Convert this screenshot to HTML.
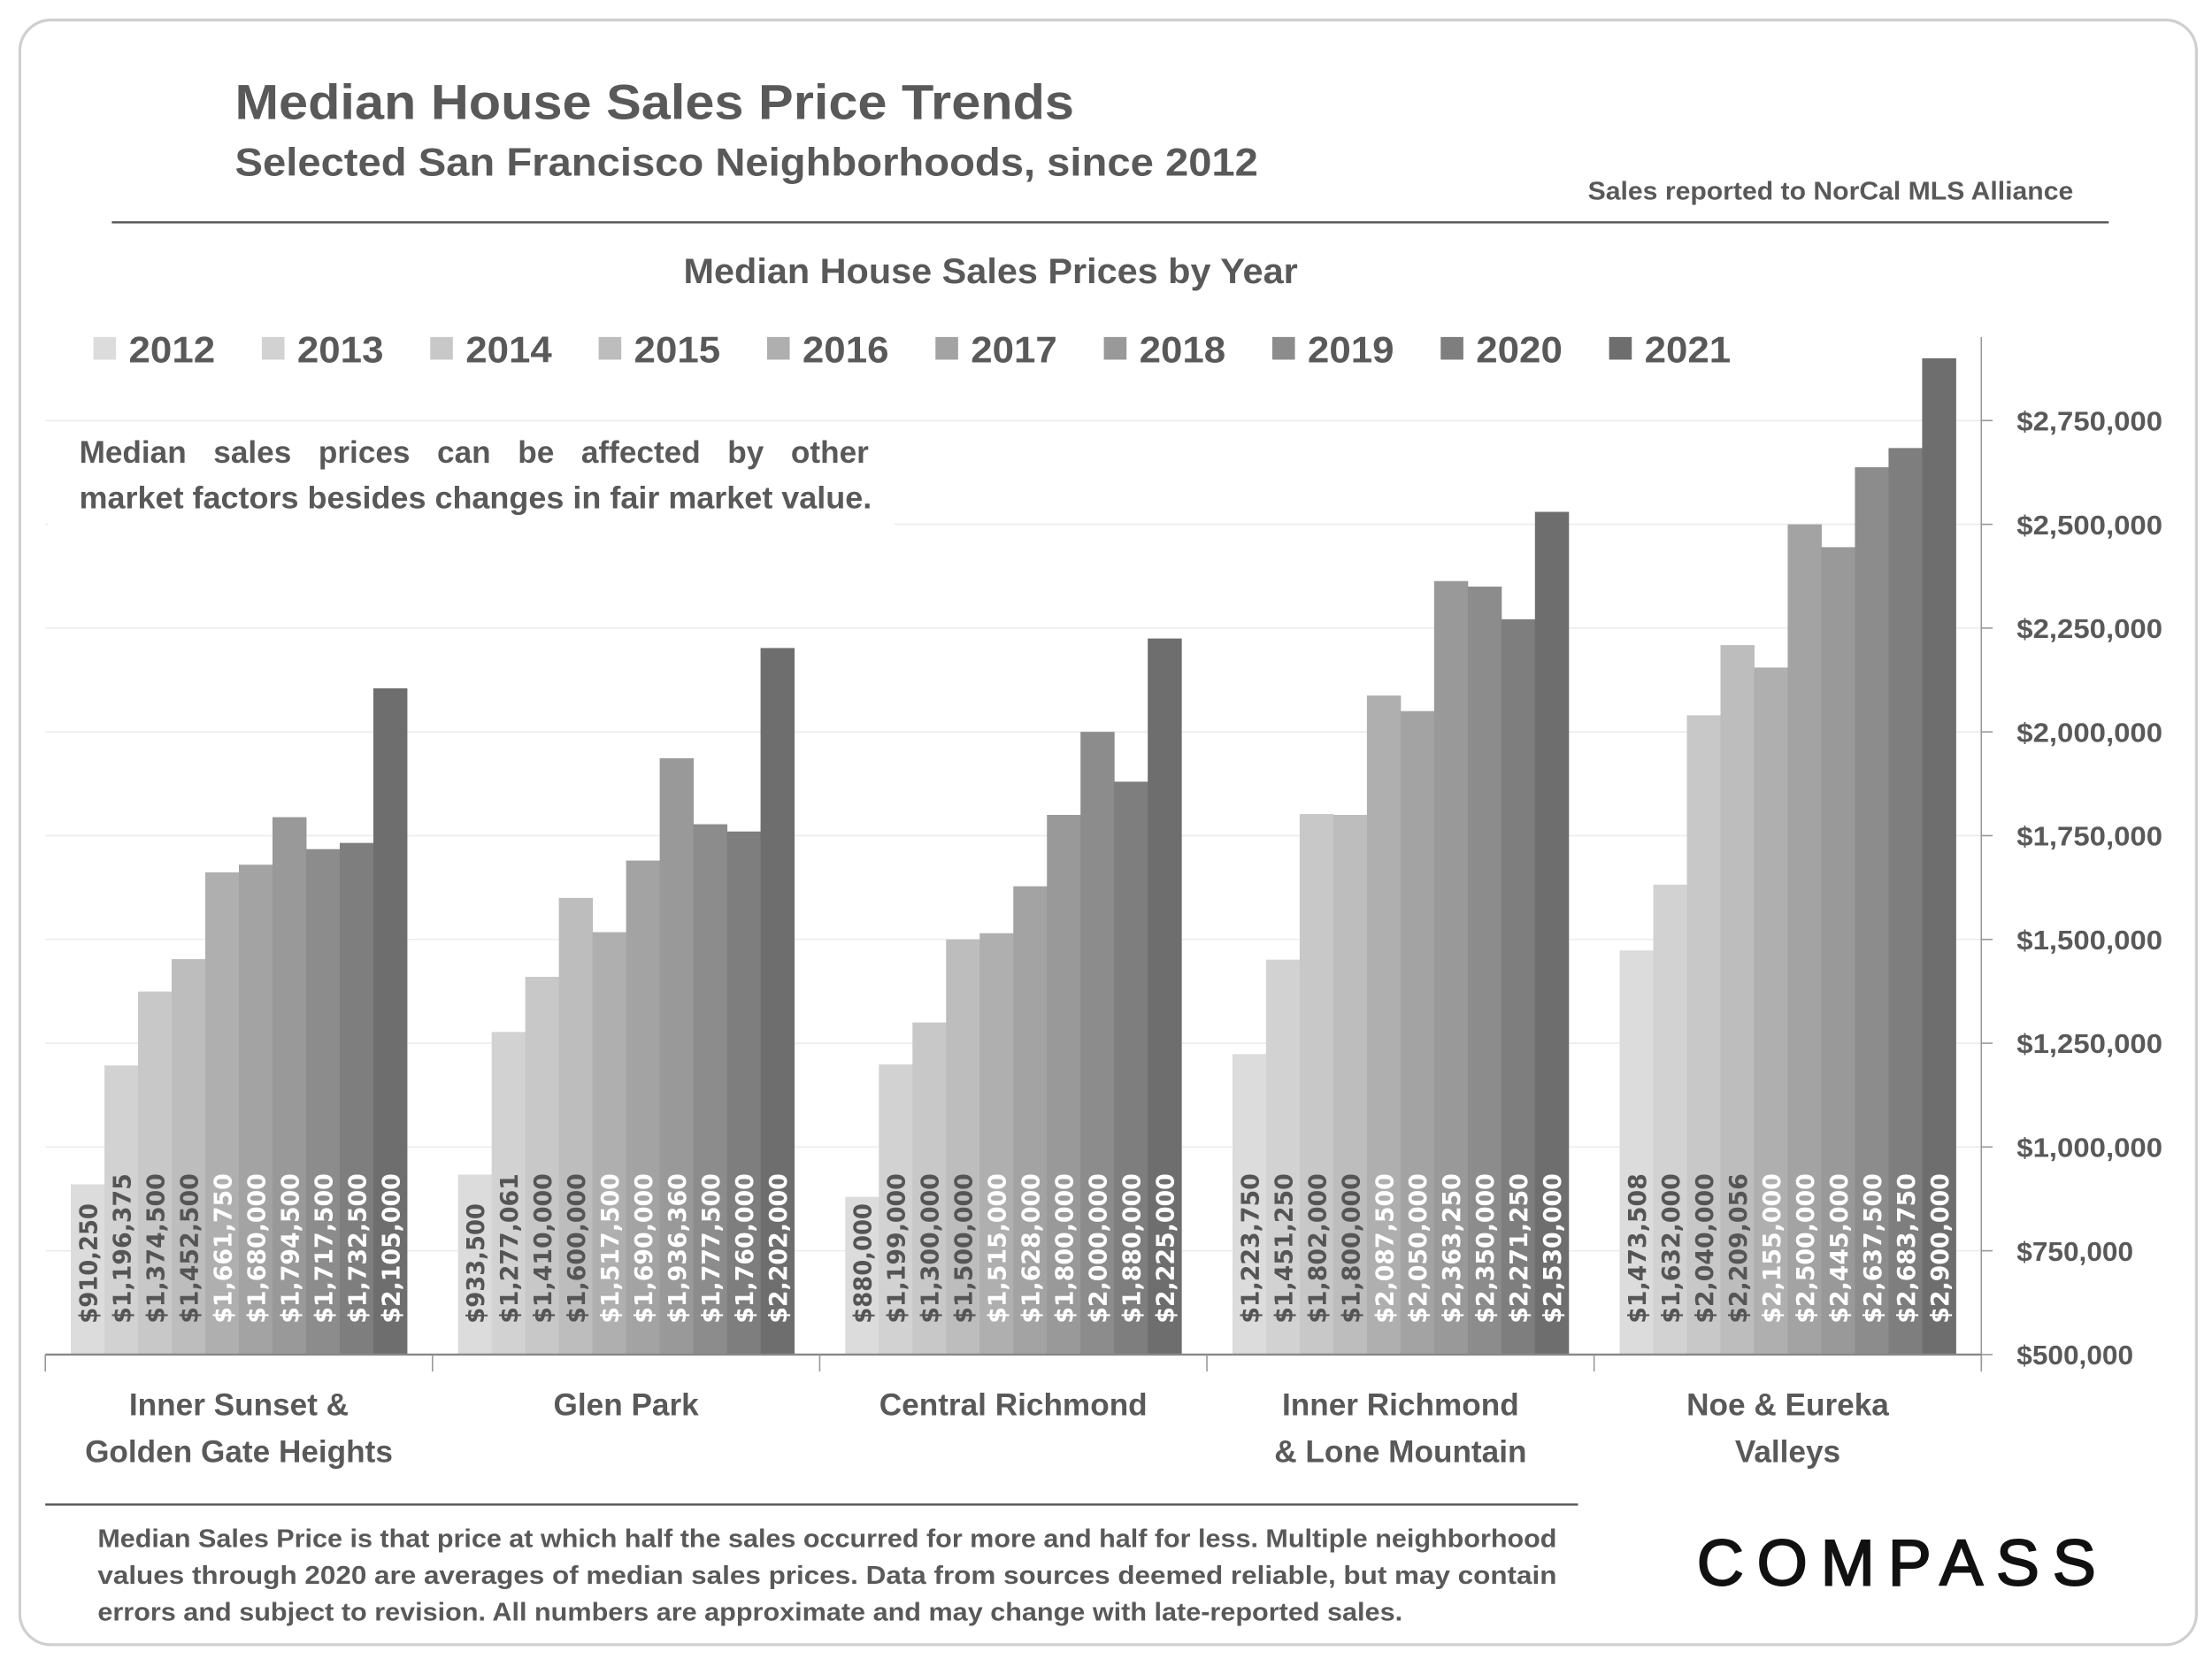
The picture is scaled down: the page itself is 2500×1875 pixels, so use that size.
<!DOCTYPE html>
<html><head><meta charset="utf-8"><style>
html,body{margin:0;padding:0;background:#fff}
svg{display:block}
text{font-family:"Liberation Sans",sans-serif;font-weight:bold;fill:#595959}
</style></head><body>
<svg id="chart" width="2500" height="1875" viewBox="0 0 1563 1172" xmlns="http://www.w3.org/2000/svg">
<rect x="14" y="14" width="1538" height="1148" rx="22" fill="#fff" stroke="#cfcfcf" stroke-width="2"/>
<text x="166" y="84" font-size="35" textLength="593" lengthAdjust="spacingAndGlyphs">Median House Sales Price Trends</text>
<text x="166" y="124" font-size="28" textLength="723" lengthAdjust="spacingAndGlyphs">Selected San Francisco Neighborhoods, since 2012</text>
<text x="1465" y="141" font-size="18" text-anchor="end" textLength="343" lengthAdjust="spacingAndGlyphs">Sales reported to NorCal MLS Alliance</text>
<line x1="79" y1="157" x2="1490" y2="157" stroke="#555" stroke-width="1.5"/>
<text x="700" y="200" font-size="25" text-anchor="middle" textLength="434" lengthAdjust="spacingAndGlyphs">Median House Sales Prices by Year</text>
<g id="grid"></g><g id="bars"></g><g id="legend"></g><g id="yaxis"></g><g id="xaxis"></g>
<rect x="34" y="300" width="598" height="72" fill="#fff"/>
<text x="56" y="327" font-size="22" word-spacing="13">Median sales prices can be affected by other</text>
<text x="56" y="359" font-size="22" textLength="560" lengthAdjust="spacingAndGlyphs">market factors besides changes in fair market value.</text>
<line x1="32" y1="1063" x2="1115" y2="1063" stroke="#555" stroke-width="1.5"/>
<text x="69" y="1093" font-size="18" textLength="1031" lengthAdjust="spacingAndGlyphs">Median Sales Price is that price at which half the sales occurred for more and half for less. Multiple neighborhood</text>
<text x="69" y="1119" font-size="18" textLength="1031" lengthAdjust="spacingAndGlyphs">values through 2020 are averages of median sales prices. Data from sources deemed reliable, but may contain</text>
<text x="69" y="1145" font-size="18" textLength="922" lengthAdjust="spacingAndGlyphs">errors and subject to revision.  All numbers are approximate and may change with late-reported sales.</text>
<text x="1199" y="1120" font-size="46" textLength="282" lengthAdjust="spacing" style="font-weight:normal;fill:#111;stroke:#111;stroke-width:1.2">COMPASS</text>
</svg>
<script>
const categories=[["Inner Sunset &","Golden Gate Heights"],["Glen Park"],["Central Richmond"],["Inner Richmond","& Lone Mountain"],["Noe & Eureka","Valleys"]];
const years=["2012","2013","2014","2015","2016","2017","2018","2019","2020","2021"];
const innerSunset=[910250,1196375,1374500,1452500,1661750,1680000,1794500,1717500,1732500,2105000];
const glenPark=[933500,1277061,1410000,1600000,1517500,1690000,1936360,1777500,1760000,2202000];
const centralRichmond=[880000,1199000,1300000,1500000,1515000,1628000,1800000,2000000,1880000,2225000];
const innerRichmond=[1223750,1451250,1802000,1800000,2087500,2050000,2363250,2350000,2271250,2530000];
const noeEureka=[1473508,1632000,2040000,2209056,2155000,2500000,2445000,2637500,2683750,2900000];
const yTicks=[500000,750000,1000000,1250000,1500000,1750000,2000000,2250000,2500000,2750000];
const series=[innerSunset,glenPark,centralRichmond,innerRichmond,noeEureka];
const colors=["#dcdcdc","#d2d2d2","#c8c8c8","#bdbdbd","#afafaf","#a3a3a3","#999999","#8c8c8c","#7e7e7e","#6e6e6e"];
const NS="http://www.w3.org/2000/svg";
const X0=32,X1=1400,Y0=957,PX=73.33/250000;
const y=v=>Y0-(v-500000)*PX;
const cw=(X1-X0)/categories.length;
const fmt=v=>"$"+v.toLocaleString("en-US");
function mk(tag,attrs,parent,txt){const e=document.createElementNS(NS,tag);for(const k in attrs)e.setAttribute(k,attrs[k]);if(txt!==undefined)e.textContent=txt;parent.appendChild(e);return e;}
const grid=document.getElementById('grid'),bars=document.getElementById('bars'),leg=document.getElementById('legend'),ya=document.getElementById('yaxis'),xa=document.getElementById('xaxis');
yTicks.forEach(t=>{
  const l=mk('line',{x1:X0,x2:X1,y1:y(t),y2:y(t),stroke:'#ececec','stroke-width':1},grid);
  
  
  const tk=mk('line',{x1:X1,x2:X1+8,y1:y(t),y2:y(t),stroke:'#999','stroke-width':1},ya);
  
  
  const s=fmt(t);
  const tx=mk('text',{x:1425,y:y(t)+7,'font-size':19,textLength:s.length*10.3,lengthAdjust:'spacingAndGlyphs'},ya,s);
  
  
});
const ax=mk('line',{x1:X1,x2:X1,y1:238,y2:Y0+8,stroke:'#999','stroke-width':1},ya);


const bx=mk('line',{x1:X0,x2:X1,y1:Y0,y2:Y0,stroke:'#888','stroke-width':1.5},xa);


const bw=23.75;
categories.forEach((c,ci)=>{
  const gx=X0+ci*cw;
  const tk=mk('line',{x1:gx,x2:gx,y1:Y0,y2:Y0+12,stroke:'#999','stroke-width':1},xa);
  
  
  c.forEach((line,li)=>{
    const t=mk('text',{x:gx+cw/2,y:1000+li*33,'font-size':22,'text-anchor':'middle'},xa,line);
    
    
  });
  const start=gx+cw/2-bw*5;
  series[ci].forEach((v,yi)=>{
    const bxp=start+yi*bw;
    const r=mk('rect',{x:bxp,y:y(v),width:bw+0.3,height:Y0-y(v),fill:colors[yi]},bars);
    
    
    const s=fmt(v);
    const tx=bxp+bw/2+6.5, ty=935;
    const lab=mk('text',{x:tx,y:ty,'font-size':17.5,transform:`rotate(-90 ${tx} ${ty})`,textLength:s.length*10.6,lengthAdjust:'spacingAndGlyphs',style:'font-family:"DejaVu Sans",sans-serif;fill:'+(yi<4?'#555':'#fff')},bars,s);
    
    
  });
});
const tk5=mk('line',{x1:X1,x2:X1,y1:Y0,y2:Y0+12,stroke:'#999','stroke-width':1},xa);


years.forEach((yr,i)=>{
  const lx=66+i*119;
  const sq=mk('rect',{x:lx,y:238,width:16,height:16,fill:colors[i]},leg);
  
  
  const t=mk('text',{x:lx+25,y:256,'font-size':26,textLength:61,lengthAdjust:'spacingAndGlyphs'},leg,yr);
  
  
});
</script>
</body></html>
